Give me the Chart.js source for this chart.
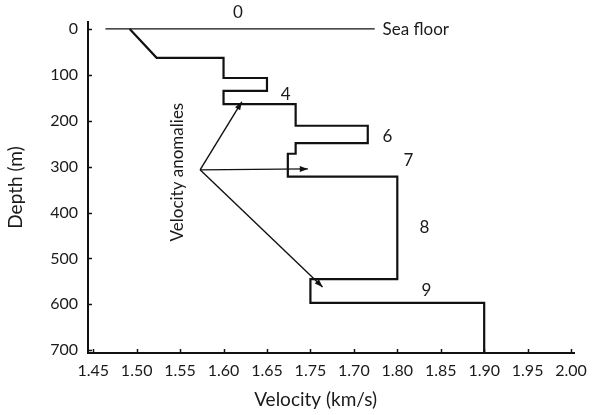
<!DOCTYPE html>
<html><head><meta charset="utf-8">
<script src="https://cdn.jsdelivr.net/npm/chart.js@4/dist/chart.umd.min.js"></script>
<style>html,body{margin:0;padding:0;background:#fff}#wrap{width:595px;height:415px}</style>
</head><body><div id="wrap"><canvas id="c" width="595" height="415"></canvas></div>
<script>
// ---- data ----
const xTickValues = [1.45, 1.50, 1.55, 1.60, 1.65, 1.70, 1.75, 1.80, 1.85, 1.90, 1.95, 2.00];
const xTickLabels = ['1.45', '1.50', '1.55', '1.60', '1.65', '1.75', '1.70', '1.80', '1.85', '1.90', '1.95', '2.00'];
const yTickValues = [0, 100, 200, 300, 400, 500, 600, 700];

const profileVelocity = [1.492, 1.523, 1.60, 1.60, 1.65, 1.65, 1.60, 1.60, 1.683, 1.683, 1.766, 1.766, 1.683, 1.683, 1.674, 1.674, 1.80, 1.80, 1.70, 1.70, 1.90, 1.90];
const profileDepth    = [0,     63,    63,   107,  107,  135,  135,  164,  164,   211,   211,   249,   249,   272,   272,   322,   322,  545,  545,  597,  597,  720];

const seaFloorVelocity = [1.464, 1.774];
const seaFloorDepth = [0, 0];

const anomalyOriginVelocity = 1.573;
const anomalyOriginDepth = 307;
const anomalyTipVelocity = [1.621, 1.697, 1.714];
const anomalyTipDepth = [159, 305, 562];

const layerLabels = ['0', '4', '6', '7', '8', '9'];
const layerLabelVelocity = [1.6165, 1.6716, 1.7887, 1.8128, 1.8312, 1.8335];
const layerLabelDepth = [-35, 144, 235, 286, 432, 569];

const seaFloorText = 'Sea floor';
const seaFloorTextVelocity = 1.783;
const seaFloorTextDepth = 2;

const anomalyText = 'Velocity anomalies';
const anomalyTextVelocity = 1.5476;
const anomalyTextDepth = 312;

const xTitleText = 'Velocity (km/s)';
const xTitleVelocity = 1.706;
const yTitleText = 'Depth (m)';

// ---- build ----
const INK = '#111';
const TXT = '#1a1a1a';
const FONT = 'Lato, "Open Sans", sans-serif';
const toPts = (xs, ys) => xs.map((v, i) => ({x: v, y: ys[i]}));

const datasets = [
  {label: 'Profile', data: toPts(profileVelocity, profileDepth), borderColor: INK, borderWidth: 2.2},
  {label: 'Sea floor', data: toPts(seaFloorVelocity, seaFloorDepth), borderColor: INK, borderWidth: 1.3}
];
anomalyTipVelocity.forEach((v, i) => {
  datasets.push({label: 'Anomaly ' + i, arrow: true,
    data: [{x: anomalyOriginVelocity, y: anomalyOriginDepth}, {x: v, y: anomalyTipDepth[i]}],
    borderColor: INK, borderWidth: 1.4});
});

const decor = {
  id: 'decor',
  afterDatasetsDraw(chart) {
    const ctx = chart.ctx, xs = chart.scales.x, ys = chart.scales.y, ca = chart.chartArea;
    ctx.save();
    // arrowheads
    chart.data.datasets.forEach((ds, di) => {
      if (!ds.arrow) return;
      const pts = chart.getDatasetMeta(di).data;
      const a = pts[pts.length - 2], b = pts[pts.length - 1];
      const ang = Math.atan2(b.y - a.y, b.x - a.x);
      const L = 8, W = 3;
      ctx.fillStyle = INK;
      ctx.beginPath();
      ctx.moveTo(b.x, b.y);
      ctx.lineTo(b.x - L * Math.cos(ang) + W * Math.sin(ang), b.y - L * Math.sin(ang) - W * Math.cos(ang));
      ctx.lineTo(b.x - L * Math.cos(ang) - W * Math.sin(ang), b.y - L * Math.sin(ang) + W * Math.cos(ang));
      ctx.closePath();
      ctx.fill();
    });
    // inward tick marks
    ctx.strokeStyle = INK; ctx.lineWidth = 1.5;
    xs.ticks.forEach(t => {
      const px = Math.round(xs.getPixelForValue(t.value)) + 0.5;
      ctx.beginPath(); ctx.moveTo(px, ca.bottom); ctx.lineTo(px, ca.bottom - 4); ctx.stroke();
    });
    ys.ticks.forEach(t => {
      const py = Math.round(ys.getPixelForValue(t.value)) + 0.5;
      ctx.beginPath(); ctx.moveTo(ca.left, py); ctx.lineTo(ca.left + 4, py); ctx.stroke();
    });
    // texts
    ctx.fillStyle = TXT;
    ctx.font = '17px ' + FONT;
    ctx.textAlign = 'center'; ctx.textBaseline = 'middle';
    layerLabels.forEach((t, i) => {
      ctx.fillText(t, xs.getPixelForValue(layerLabelVelocity[i]), ys.getPixelForValue(layerLabelDepth[i]));
    });
    ctx.textAlign = 'left';
    ctx.fillText(seaFloorText, xs.getPixelForValue(seaFloorTextVelocity), ys.getPixelForValue(seaFloorTextDepth));
    // x axis title
    ctx.font = '19px ' + FONT;
    ctx.textAlign = 'center';
    ctx.fillText(xTitleText, xs.getPixelForValue(xTitleVelocity), xs.bottom - 15);
    // rotated annotation
    ctx.font = '17px ' + FONT;
    ctx.translate(xs.getPixelForValue(anomalyTextVelocity), ys.getPixelForValue(anomalyTextDepth));
    ctx.rotate(-Math.PI / 2);
    ctx.fillText(anomalyText, 0, 0);
    ctx.restore();
  }
};

new Chart(document.getElementById('c'), {
  type: 'scatter',
  data: {datasets},
  options: {
    responsive: false,
    animation: false,
    devicePixelRatio: 1,
    showLine: true,
    elements: {point: {radius: 0, hoverRadius: 0}, line: {tension: 0, fill: false}},
    layout: {padding: {top: 22, right: 20, left: 0, bottom: 0}},
    plugins: {legend: {display: false}, tooltip: {enabled: false}},
    scales: {
      x: {
        type: 'linear', min: 1.444, max: 2.0035,
        afterBuildTicks: s => { s.ticks = xTickValues.map(v => ({value: v})); },
        afterFit: s => { s.height = 62; },
        grid: {display: false, drawTicks: false},
        border: {display: true, color: INK, width: 2},
        ticks: {color: TXT, font: {family: FONT, size: 16}, padding: 8, maxRotation: 0, autoSkip: false,
          callback: (val, i) => xTickLabels[i]},
        title: {display: false}
      },
      y: {
        type: 'linear', reverse: true, min: -15, max: 706,
        afterBuildTicks: s => { s.ticks = yTickValues.map(v => ({value: v})); },
        afterFit: s => { s.width = 88; },
        grid: {display: false, drawTicks: false},
        border: {display: true, color: INK, width: 2},
        ticks: {color: TXT, font: {family: FONT, size: 16}, padding: 10, autoSkip: false,
          callback: v => String(v)},
        title: {display: true, text: yTitleText, color: TXT, font: {family: FONT, size: 19}, padding: {top: 4, bottom: 4}}
      }
    }
  },
  plugins: [decor]
});
</script></body></html>
